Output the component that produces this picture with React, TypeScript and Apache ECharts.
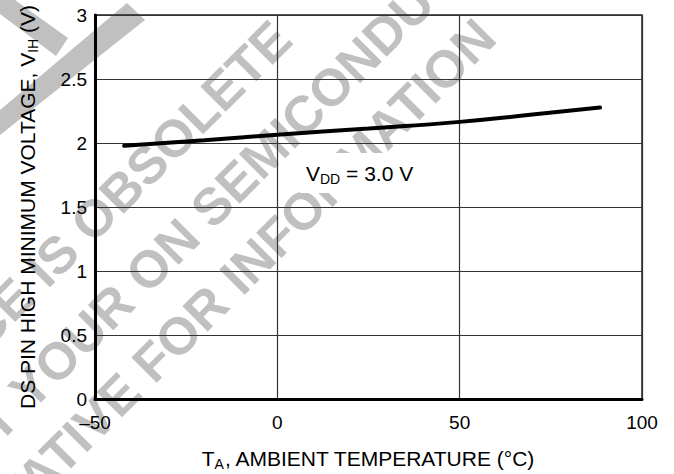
import React, { useEffect, useRef } from "react";
import * as echarts from "echarts";

const temps = [-42, -20, 0, 25, 50, 70, 88.5];
const volts = [1.978, 2.021, 2.065, 2.113, 2.165, 2.222, 2.277];
const xTicks = { min: -50, max: 100, interval: 50 };
const yTicks = { min: 0, max: 3, interval: 0.5 };
const watermarkLines = [
  "THIS DEVICE IS OBSOLETE",
  "CONTACT YOUR ON",
  "SEMICONDUCTOR",
  "REPRESENTATIVE FOR INFORMATION",
];

const FONT = "'Liberation Sans', Arial, Helvetica, sans-serif";
const WM = "#c0c0c0";

export default function App() {
  const ref = useRef<HTMLDivElement>(null);
  useEffect(() => {
    document.body.style.margin = "0";
    if (!ref.current) return;
    const chart = echarts.init(ref.current, null, { renderer: "svg" });
    const wmFont = `bold 52px ${FONT}`;
    const rot = Math.PI / 4;
    const wmText = (text: string, x: number, y: number, align: string) => ({
      type: "text",
      x,
      y,
      rotation: rot,
      z: -10,
      silent: true,
      style: {
        text,
        font: wmFont,
        fill: WM,
        textAlign: align,
        textVerticalAlign: "middle",
      },
    });
    const sub = {
      t: { fontSize: 21, lineHeight: 26, verticalAlign: "middle", color: "#000", fontFamily: FONT },
      s: { fontSize: 14, lineHeight: 14, verticalAlign: "bottom", color: "#000", fontFamily: FONT },
    };
    chart.setOption({
      animation: false,
      backgroundColor: "#fff",
      grid: {
        left: 95,
        right: 32,
        top: 15,
        bottom: 75,
        outerBoundsMode: "none",
        containLabel: false,
        show: true,
        borderColor: "#222",
        borderWidth: 1.5,
      },
      xAxis: {
        type: "value",
        min: xTicks.min,
        max: xTicks.max,
        interval: xTicks.interval,
        axisLine: { show: true, onZero: false, lineStyle: { color: "#000", width: 3 } },
        axisTick: { show: false },
        splitLine: { show: true, lineStyle: { color: "#333", width: 1.2 } },
        axisLabel: {
          fontSize: 19,
          color: "#000",
          fontFamily: FONT,
          margin: 14,
          formatter: (v: number) => (v < 0 ? "\u2013" + Math.abs(v) : String(v)),
        },
        name: "{t|T}{s|A}{t|, AMBIENT TEMPERATURE (°C)}",
        nameLocation: "middle",
        nameGap: 46,
        nameTextStyle: { rich: sub },
      },
      yAxis: {
        type: "value",
        min: yTicks.min,
        max: yTicks.max,
        interval: yTicks.interval,
        axisLine: { show: true, onZero: false, lineStyle: { color: "#000", width: 3 } },
        axisTick: { show: false },
        splitLine: { show: true, lineStyle: { color: "#333", width: 1.2 } },
        axisLabel: { fontSize: 19, color: "#000", fontFamily: FONT, margin: 8 },
        name: "{t|DS PIN HIGH MINIMUM VOLTAGE, V}{s|IH}{t| (V)}",
        nameLocation: "middle",
        nameRotate: 90,
        nameGap: 55,
        nameTextStyle: { rich: sub },
      },
      graphic: [
        {
          type: "polygon",
          z: -10,
          silent: true,
          shape: { points: [[0, 0], [15, 0], [68, 38], [56, 56], [0, 14]] },
          style: { fill: WM },
        },
        {
          type: "polygon",
          z: -10,
          silent: true,
          shape: { points: [[0, 110], [127, 3], [145, 20], [0, 135]] },
          style: { fill: WM },
        },
        wmText(watermarkLines[0], 282, 30, "right"),
        wmText(watermarkLines[1], 190, 228, "right"),
        wmText(watermarkLines[2], 200, 218, "left"),
        wmText(watermarkLines[3], 486, 28, "right"),
        {
          type: "text",
          x: 300,
          y: 153,
          z: 5,
          style: {
            text: "{t|V}{s|DD}{t| = 3.0 V}",
            rich: sub,
            textAlign: "left",
            textVerticalAlign: "top",
            backgroundColor: "#fff",
            padding: [7, 12, 7, 6],
          },
        },
      ],
      series: [
        {
          type: "line",
          smooth: true,
          showSymbol: false,
          silent: true,
          lineStyle: { color: "#000", width: 4, cap: "round" },
          data: temps.map((t, i) => [t, volts[i]]),
          z: 3,
        },
      ],
    });
    return () => chart.dispose();
  }, []);
  return <div ref={ref} style={{ width: 674, height: 474 }} />;
}
